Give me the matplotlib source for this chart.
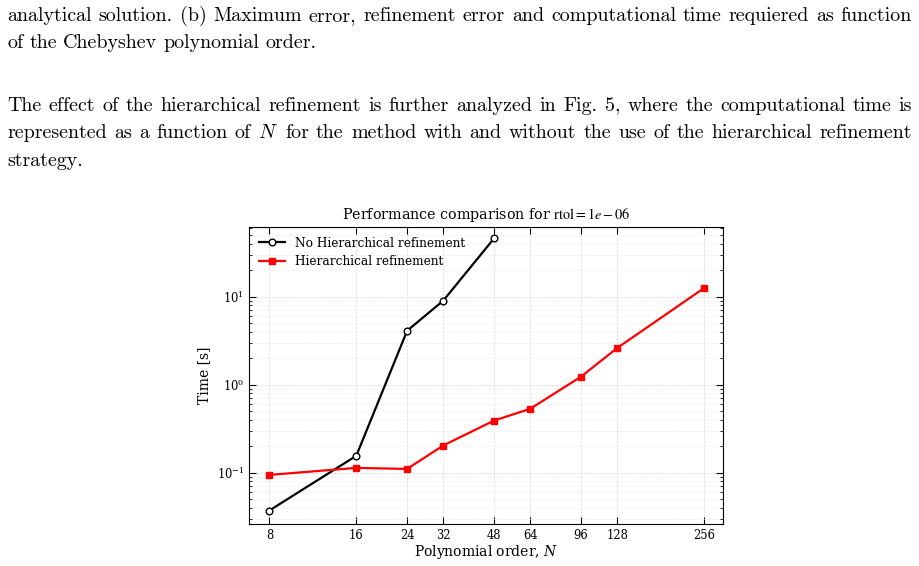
import numpy as np
import matplotlib.pyplot as plt
from matplotlib.ticker import LogLocator, NullLocator, NullFormatter

# data
N = [8, 16, 24, 32, 48, 64, 96, 128, 256]
N_no_hier = [8, 16, 24, 32, 48]
t_no_hier = [0.037, 0.155, 4.1, 9.0, 46.0]
t_hier = [0.094, 0.113, 0.110, 0.203, 0.39, 0.53, 1.23, 2.60, 12.5]
xtick_labels = ['8', '16', '24', '32', '48', '64', '96', '128', '256']

caption_lines = [
    "analytical solution. (b) Maximum error, refinement error and computational time requiered as function",
    "of the Chebyshev polynomial order.",
]
para_lines = [
    "The effect of the hierarchical refinement is further analyzed in Fig. 5, where the computational time is",
    "represented as a function of $N$ for the method with and without the use of the hierarchical refinement",
    "strategy.",
]

plt.rcParams['font.family'] = 'DejaVu Serif'
plt.rcParams['mathtext.fontset'] = 'dejavuserif'

W, H = 919, 566
fig = plt.figure(figsize=(W/100, H/100), dpi=100)
renderer = fig.canvas.get_renderer()

def put_line(line, base_y, x1, fs=14.4, x0=7):
    words = line.split(' ')
    texts = []
    for w in words:
        t = fig.text(0, 1 - base_y/H, w, fontsize=fs, family='cmr10',
                     math_fontfamily='cm', va='baseline', ha='left')
        texts.append(t)
    widths = [t.get_window_extent(renderer).width for t in texts]
    gap = 0
    if len(words) > 1:
        gap = (x1 - x0 - sum(widths)) / (len(words) - 1)
    x = x0
    for t, w in zip(texts, widths):
        t.set_x(x / W)
        x += w + gap

put_line(caption_lines[0], 21, 912)
put_line(caption_lines[1], 48.5, 316)
put_line(para_lines[0], 111, 912)
put_line(para_lines[1], 138.5, 912)
put_line(para_lines[2], 166, 80)

ax = fig.add_axes([249/W, 1 - 524/H, (723-249)/W, (524-227)/H])
ax.plot(N_no_hier, t_no_hier, '-o', color='black', lw=1.6, ms=4.8,
        mfc='white', mec='black', mew=1.0, label='No Hierarchical refinement')
ax.plot(N, t_hier, '-s', color='red', lw=1.6, ms=4.8,
        label='Hierarchical refinement')
ax.set_xscale('log')
ax.set_yscale('log')
ax.set_xlim(6.8, 298)
ax.set_ylim(0.026, 62)
ax.set_xticks(N)
ax.set_xticklabels(xtick_labels)
ax.xaxis.set_minor_locator(NullLocator())
ax.xaxis.set_minor_formatter(NullFormatter())
ax.yaxis.set_minor_locator(LogLocator(base=10, subs=np.arange(2, 10)))
ax.tick_params(which='both', direction='in', top=True, right=True, labelsize=8.3)
ax.tick_params(which='major', length=5, width=0.8)
ax.tick_params(which='minor', length=2.5, width=0.6)
ax.grid(True, which='major', ls='--', lw=0.5, color='#d8d8d8')
ax.grid(True, which='minor', axis='y', ls='--', lw=0.4, color='#ececec')
ax.set_axisbelow(True)
ax.set_title(r'Performance comparison for $\mathrm{rtol} = 1e-06$', fontsize=10.3,
             math_fontfamily='stix', pad=6)
ax.set_xlabel('Polynomial order, $N$', fontsize=10, labelpad=1)
ax.set_ylabel('Time [s]', fontsize=10, labelpad=4)
ax.legend(loc='upper left', frameon=False, fontsize=8.7, handlelength=2.2,
          borderaxespad=0.4, labelspacing=0.45)

fig.savefig('out.png', dpi=100)
